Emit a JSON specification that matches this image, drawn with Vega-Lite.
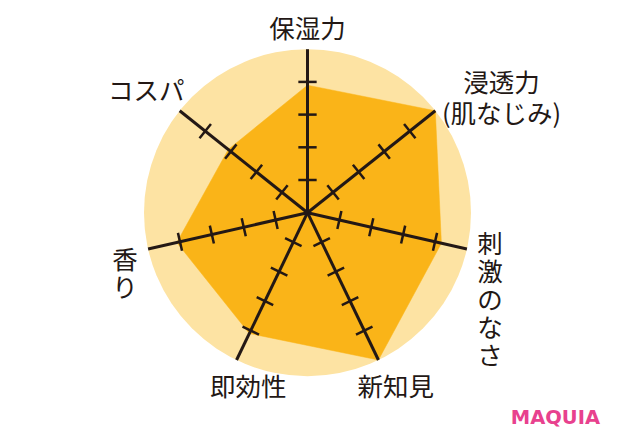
{
  "$schema": "https://vega.github.io/schema/vega-lite/v6.json",
  "width": 620,
  "height": 448,
  "padding": 0,
  "autosize": {"type": "none"},
  "background": "#ffffff",
  "view": {"stroke": null},
  "title": {
    "text": "MAQUIA",
    "orient": "bottom",
    "anchor": "end",
    "offset": -24,
    "dx": -20,
    "font": "DejaVu Sans",
    "fontSize": 19.5,
    "fontWeight": "bold",
    "color": "#E8418E",
    "baseline": "alphabetic"
  },
  "data": {
    "values": [
      {"axis": "保湿力", "label": "保湿力", "idx": 0, "value": 3.9, "ticks": [1, 2, 3, 4]},
      {"axis": "浸透力（肌なじみ）", "label": "浸透力\n(肌なじみ)", "idx": 1, "value": 5.0, "ticks": [1, 2, 3, 4]},
      {"axis": "刺激のなさ", "label": "刺\n激\nの\nな\nさ", "idx": 2, "value": 4.2, "ticks": [1, 2, 3, 4]},
      {"axis": "新知見", "label": "新知見", "idx": 3, "value": 5.0, "ticks": [1, 2, 3, 4]},
      {"axis": "即効性", "label": "即効性", "idx": 4, "value": 4.1, "ticks": [1, 2, 3, 4]},
      {"axis": "香り", "label": "香\nり", "idx": 5, "value": 4.1, "ticks": [1, 2, 3, 4]},
      {"axis": "コスパ", "label": "コスパ", "idx": 6, "value": 3.1, "ticks": [1, 2, 3, 4]}
    ]
  },
  "transform": [
    {"calculate": "datum.idx * 2 * PI / 7", "as": "ang"},
    {"calculate": "datum.value * sin(datum.ang)", "as": "px"},
    {"calculate": "datum.value * cos(datum.ang)", "as": "py"},
    {"calculate": "5 * sin(datum.ang)", "as": "ex"},
    {"calculate": "5 * cos(datum.ang)", "as": "ey"},
    {"calculate": "0", "as": "cx"},
    {"calculate": "0", "as": "cy"}
  ],
  "layer": [
    {
      "transform": [{"filter": "datum.idx == 0"}],
      "mark": {"type": "point", "filled": true, "size": 106929, "color": "#FDE3A3", "opacity": 1, "strokeWidth": 0},
      "encoding": {
        "x": {"field": "cx", "type": "quantitative", "scale": {"domain": [-9.404, 9.557], "nice": false, "zero": false}, "axis": null},
        "y": {"field": "cy", "type": "quantitative", "scale": {"domain": [-7.196, 6.505], "nice": false, "zero": false}, "axis": null}
      }
    },
    {
      "mark": {"type": "line", "interpolate": "linear-closed", "fill": "#FAB418", "stroke": "#FAB418", "strokeWidth": 0.5, "fillOpacity": 1},
      "encoding": {
        "x": {"field": "px", "type": "quantitative", "scale": {"domain": [-9.404, 9.557], "nice": false, "zero": false}, "axis": null},
        "y": {"field": "py", "type": "quantitative", "scale": {"domain": [-7.196, 6.505], "nice": false, "zero": false}, "axis": null},
        "order": {"field": "idx", "type": "quantitative"}
      }
    },
    {
      "mark": {"type": "rule", "color": "#231815", "strokeWidth": 3},
      "encoding": {
        "x": {"field": "cx", "type": "quantitative", "scale": {"domain": [-9.404, 9.557], "nice": false, "zero": false}, "axis": null},
        "y": {"field": "cy", "type": "quantitative", "scale": {"domain": [-7.196, 6.505], "nice": false, "zero": false}, "axis": null},
        "x2": {"field": "ex"},
        "y2": {"field": "ey"}
      }
    },
    {
      "transform": [
        {"flatten": ["ticks"], "as": ["lvl"]},
        {"calculate": "datum.lvl * sin(datum.ang) - 0.28 * cos(datum.ang)", "as": "tx1"},
        {"calculate": "datum.lvl * cos(datum.ang) + 0.28 * sin(datum.ang)", "as": "ty1"},
        {"calculate": "datum.lvl * sin(datum.ang) + 0.28 * cos(datum.ang)", "as": "tx2"},
        {"calculate": "datum.lvl * cos(datum.ang) - 0.28 * sin(datum.ang)", "as": "ty2"}
      ],
      "mark": {"type": "rule", "color": "#231815", "strokeWidth": 2.5},
      "encoding": {
        "x": {"field": "tx1", "type": "quantitative", "scale": {"domain": [-9.404, 9.557], "nice": false, "zero": false}, "axis": null},
        "y": {"field": "ty1", "type": "quantitative", "scale": {"domain": [-7.196, 6.505], "nice": false, "zero": false}, "axis": null},
        "x2": {"field": "tx2"},
        "y2": {"field": "ty2"}
      }
    },
    {
      "transform": [{"filter": "datum.idx == 0"}],
      "mark": {"type": "text", "font": "Noto Sans CJK JP", "fontSize": 25.5, "color": "#231815", "align": "center", "baseline": "middle", "dy": -19.7},
      "encoding": {
        "x": {"field": "ex", "type": "quantitative", "scale": {"domain": [-9.404, 9.557], "nice": false, "zero": false}, "axis": null},
        "y": {"field": "ey", "type": "quantitative", "scale": {"domain": [-7.196, 6.505], "nice": false, "zero": false}, "axis": null},
        "text": {"field": "label", "type": "nominal"}
      }
    },
    {
      "transform": [{"filter": "datum.idx == 1"}],
      "mark": {"type": "text", "font": "Noto Sans CJK JP", "fontSize": 25.5, "color": "#231815", "align": "center", "baseline": "middle", "lineBreak": "\n", "lineHeight": 31, "dx": 66.3, "dy": -26.3},
      "encoding": {
        "x": {"field": "ex", "type": "quantitative", "scale": {"domain": [-9.404, 9.557], "nice": false, "zero": false}, "axis": null},
        "y": {"field": "ey", "type": "quantitative", "scale": {"domain": [-7.196, 6.505], "nice": false, "zero": false}, "axis": null},
        "text": {"field": "label", "type": "nominal"}
      }
    },
    {
      "transform": [{"filter": "datum.idx == 2"}],
      "mark": {"type": "text", "font": "Noto Sans CJK JP", "fontSize": 25.5, "color": "#231815", "align": "center", "baseline": "middle", "lineBreak": "\n", "lineHeight": 28, "dx": 23.1, "dy": -4.1},
      "encoding": {
        "x": {"field": "ex", "type": "quantitative", "scale": {"domain": [-9.404, 9.557], "nice": false, "zero": false}, "axis": null},
        "y": {"field": "ey", "type": "quantitative", "scale": {"domain": [-7.196, 6.505], "nice": false, "zero": false}, "axis": null},
        "text": {"field": "label", "type": "nominal"}
      }
    },
    {
      "transform": [{"filter": "datum.idx == 3"}],
      "mark": {"type": "text", "font": "Noto Sans CJK JP", "fontSize": 25.5, "color": "#231815", "align": "center", "baseline": "middle", "dx": 17.4, "dy": 28},
      "encoding": {
        "x": {"field": "ex", "type": "quantitative", "scale": {"domain": [-9.404, 9.557], "nice": false, "zero": false}, "axis": null},
        "y": {"field": "ey", "type": "quantitative", "scale": {"domain": [-7.196, 6.505], "nice": false, "zero": false}, "axis": null},
        "text": {"field": "label", "type": "nominal"}
      }
    },
    {
      "transform": [{"filter": "datum.idx == 4"}],
      "mark": {"type": "text", "font": "Noto Sans CJK JP", "fontSize": 25.5, "color": "#231815", "align": "center", "baseline": "middle", "dx": 11.7, "dy": 28},
      "encoding": {
        "x": {"field": "ex", "type": "quantitative", "scale": {"domain": [-9.404, 9.557], "nice": false, "zero": false}, "axis": null},
        "y": {"field": "ey", "type": "quantitative", "scale": {"domain": [-7.196, 6.505], "nice": false, "zero": false}, "axis": null},
        "text": {"field": "label", "type": "nominal"}
      }
    },
    {
      "transform": [{"filter": "datum.idx == 5"}],
      "mark": {"type": "text", "font": "Noto Sans CJK JP", "fontSize": 25.5, "color": "#231815", "align": "center", "baseline": "middle", "lineBreak": "\n", "lineHeight": 28, "dx": -23.1, "dy": 11.9},
      "encoding": {
        "x": {"field": "ex", "type": "quantitative", "scale": {"domain": [-9.404, 9.557], "nice": false, "zero": false}, "axis": null},
        "y": {"field": "ey", "type": "quantitative", "scale": {"domain": [-7.196, 6.505], "nice": false, "zero": false}, "axis": null},
        "text": {"field": "label", "type": "nominal"}
      }
    },
    {
      "transform": [{"filter": "datum.idx == 6"}],
      "mark": {"type": "text", "font": "Noto Sans CJK JP", "fontSize": 25.5, "color": "#231815", "align": "center", "baseline": "middle", "dx": -33.4, "dy": -19.1},
      "encoding": {
        "x": {"field": "ex", "type": "quantitative", "scale": {"domain": [-9.404, 9.557], "nice": false, "zero": false}, "axis": null},
        "y": {"field": "ey", "type": "quantitative", "scale": {"domain": [-7.196, 6.505], "nice": false, "zero": false}, "axis": null},
        "text": {"field": "label", "type": "nominal"}
      }
    }
  ]
}
